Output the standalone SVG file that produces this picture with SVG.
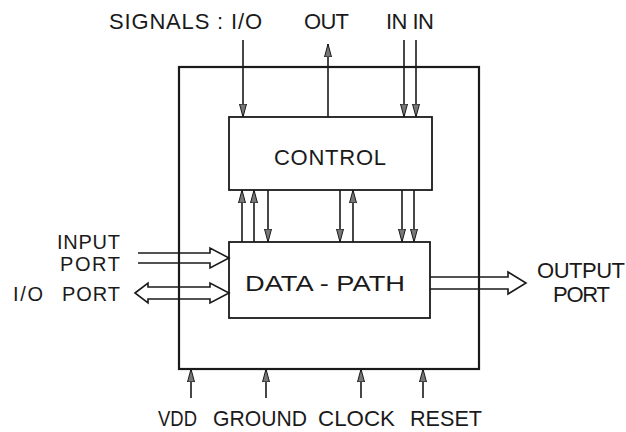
<svg xmlns="http://www.w3.org/2000/svg" width="626" height="432" viewBox="0 0 626 432">
<style>
text{font-family:"Liberation Sans",Arial,sans-serif;font-size:22px;fill:#1a1a1a}
.s{font-size:20px}
.box{fill:#fff;stroke:#1a1a1a;stroke-width:1.8}
.outer{fill:none;stroke:#1a1a1a;stroke-width:2.2}
.w{stroke:#1a1a1a;stroke-width:1.6;fill:none}
.bus{fill:none;stroke:#1a1a1a;stroke-width:1.6;stroke-linejoin:miter}
</style>
<defs>
<marker id="ah" markerUnits="userSpaceOnUse" markerWidth="14" markerHeight="10" viewBox="0 0 14 10" refX="13" refY="5" orient="auto">
<path d="M0,1.5 L13,5 L0,8.5 Z" fill="#777" stroke="#1a1a1a" stroke-width="1"/>
</marker>
</defs>
<g id="chip"><rect class="outer" x="179" y="67" width="300" height="302"/></g>
<g id="control"><rect class="box" x="229" y="117" width="203" height="73"/><text x="330" y="165" text-anchor="middle" textLength="112">CONTROL</text></g>
<g id="datapath"><rect class="box" x="229" y="242" width="201" height="76"/><text x="325" y="291" text-anchor="middle" textLength="160" lengthAdjust="spacingAndGlyphs">DATA - PATH</text></g>
<g id="connectors">
<line class="w" x1="243" y1="40" x2="243" y2="117" marker-end="url(#ah)"/>
<line class="w" x1="328" y1="117" x2="328" y2="44" marker-end="url(#ah)"/>
<line class="w" x1="404" y1="40" x2="404" y2="117" marker-end="url(#ah)"/>
<line class="w" x1="416" y1="40" x2="416" y2="117" marker-end="url(#ah)"/>
<line class="w" x1="242" y1="242" x2="242" y2="190" marker-end="url(#ah)"/>
<line class="w" x1="254" y1="242" x2="254" y2="190" marker-end="url(#ah)"/>
<line class="w" x1="268" y1="190" x2="268" y2="242" marker-end="url(#ah)"/>
<line class="w" x1="340" y1="190" x2="340" y2="242" marker-end="url(#ah)"/>
<line class="w" x1="353" y1="242" x2="353" y2="190" marker-end="url(#ah)"/>
<line class="w" x1="402" y1="190" x2="402" y2="242" marker-end="url(#ah)"/>
<line class="w" x1="414" y1="190" x2="414" y2="242" marker-end="url(#ah)"/>
<line class="w" x1="191" y1="398" x2="191" y2="369" marker-end="url(#ah)"/>
<line class="w" x1="266" y1="398" x2="266" y2="369" marker-end="url(#ah)"/>
<line class="w" x1="361" y1="398" x2="361" y2="369" marker-end="url(#ah)"/>
<line class="w" x1="423" y1="398" x2="423" y2="369" marker-end="url(#ah)"/>
<path class="bus" d="M138,253 L210,253 L210,248 L229,258 L210,268 L210,263 L138,263"/>
<path class="bus" d="M135,293 L148,283 L148,287 L210,287 L210,283 L229,293 L210,303 L210,299 L148,299 L148,303 Z"/>
<path class="bus" d="M430,277 L508,277 L508,272 L526,283 L508,294 L508,289 L430,289"/>
</g>
<g id="labels">
<text x="109" y="29" textLength="153">SIGNALS : I/O</text>
<text x="304" y="29" textLength="45">OUT</text>
<text x="386" y="29" textLength="48">IN IN</text>
<text class="s" x="57" y="249" textLength="63">INPUT</text>
<text class="s" x="60" y="271" textLength="60">PORT</text>
<text class="s" x="13" y="301" textLength="30">I/O</text>
<text class="s" x="62" y="301" textLength="58">PORT</text>
<text x="537" y="278" font-size="21" textLength="88">OUTPUT</text>
<text x="553" y="302" font-size="21" textLength="57">PORT</text>
<text x="158" y="426" textLength="39" lengthAdjust="spacingAndGlyphs">VDD</text>
<text x="213" y="426" textLength="94" lengthAdjust="spacingAndGlyphs">GROUND</text>
<text x="318" y="426" textLength="77" lengthAdjust="spacingAndGlyphs">CLOCK</text>
<text x="410" y="426" textLength="72" lengthAdjust="spacingAndGlyphs">RESET</text>
</g>
</svg>
